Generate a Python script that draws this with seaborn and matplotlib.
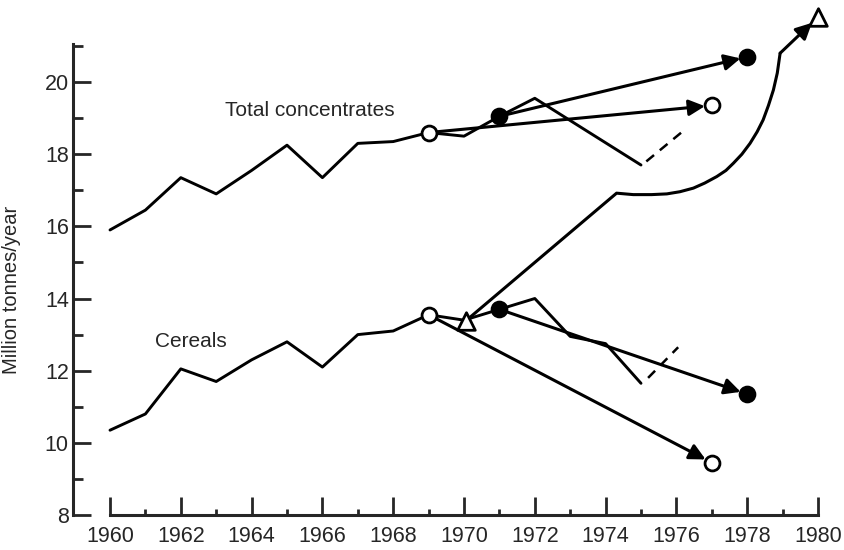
import numpy as np
import pandas as pd
import seaborn as sns
import matplotlib.pyplot as plt
from matplotlib.ticker import MultipleLocator

# values
years_total = [1960, 1961, 1962, 1963, 1964, 1965, 1966, 1967, 1968, 1969, 1970, 1971, 1972, 1975]
total_conc = [15.9, 16.45, 17.35, 16.9, 17.55, 18.25, 17.35, 18.3, 18.35, 18.6, 18.5, 19.05, 19.55, 17.7]
years_cereal = [1960, 1961, 1962, 1963, 1964, 1965, 1966, 1967, 1968, 1969, 1970, 1971, 1972, 1973, 1974, 1975]
cereals = [10.35, 10.8, 12.05, 11.7, 12.3, 12.8, 12.1, 13.0, 13.1, 13.55, 13.4, 13.7, 14.0, 12.95, 12.75, 11.65]

# dashed continuations after 1975
total_dash_x = [1975.15, 1976.2]
total_dash_y = [17.8, 18.65]
cereal_dash_x = [1975.2, 1976.05]
cereal_dash_y = [11.8, 12.65]

# forecasts: start/end points and marker fill
fc_start_x = [1969, 1971, 1969, 1971]
fc_start_y = [18.6, 19.05, 13.55, 13.7]
fc_end_x = [1977, 1978, 1977, 1978]
fc_end_y = [19.35, 20.7, 9.45, 11.35]
fc_fill = ["white", "black", "white", "black"]

# the triangle forecast path (1970 -> 1980)
tri_x = [1970.05, 1974.31, 1974.78, 1975.3, 1975.73, 1976.1, 1976.48, 1976.8, 1977.14,
         1977.4, 1977.61, 1977.85, 1978.08, 1978.28, 1978.45, 1978.6, 1978.74, 1978.85, 1978.93, 1980.0]
tri_y = [13.38, 16.92, 16.88, 16.88, 16.9, 16.96, 17.06, 17.2, 17.38,
         17.55, 17.75, 18.0, 18.3, 18.62, 18.95, 19.35, 19.78, 20.25, 20.8, 21.8]

sns.set_theme(style="ticks")
plt.rcParams["font.family"] = ["Liberation Sans", "DejaVu Sans"]

fig = plt.figure(figsize=(8.45, 5.5), dpi=100)
ax = fig.add_axes([73 / 845, 35 / 550, 1 - 73 / 845, 515 / 550])

total_df = pd.DataFrame({"year": years_total, "value": total_conc})
cereal_df = pd.DataFrame({"year": years_cereal, "value": cereals})
sns.lineplot(data=total_df, x="year", y="value", color="black", lw=2.1, ax=ax)
sns.lineplot(data=cereal_df, x="year", y="value", color="black", lw=2.1, ax=ax)
ax.plot(total_dash_x, total_dash_y, color="black", lw=1.8, ls=(0, (4, 3)))
ax.plot(cereal_dash_x, cereal_dash_y, color="black", lw=1.8, ls=(0, (4, 3)))

# triangle path, last bit as an arrow
ax.plot(tri_x[:-1], tri_y[:-1], color="black", lw=2.2, solid_joinstyle="round")
ax.annotate("", xy=(tri_x[-1], tri_y[-1]), xytext=(tri_x[-2], tri_y[-2]),
            arrowprops=dict(arrowstyle="-|>", lw=2.2, color="black",
                            mutation_scale=24, shrinkA=0, shrinkB=6))
ax.scatter([tri_x[0], tri_x[-1]], [tri_y[0], tri_y[-1]], marker="^", s=160,
           facecolor="white", edgecolor="black", linewidth=2, zorder=5)

# straight forecast arrows
for sx, sy, ex, ey, fill in zip(fc_start_x, fc_start_y, fc_end_x, fc_end_y, fc_fill):
    ax.annotate("", xy=(ex, ey), xytext=(sx, sy),
                arrowprops=dict(arrowstyle="-|>", lw=2.2, color="black",
                                mutation_scale=24, shrinkA=0, shrinkB=5))
    ax.scatter([sx, ex], [sy, ey], marker="o", s=115, facecolor=fill,
               edgecolor="black", linewidth=2, zorder=5)

ax.text(1963.25, 19.2, "Total concentrates", fontsize=15, va="center")
ax.text(1961.27, 12.8, "Cereals", fontsize=15, va="center")

ax.set_xlim(1960 - 37 / 35.4, 1960 + 735 / 35.4)
ax.set_ylim(8, 8 + 515 / 36.08)
ax.spines["bottom"].set_bounds(1960, 1980)
ax.spines["left"].set_bounds(8, 21.05)
sns.despine(ax=ax)
for s in ["bottom", "left"]:
    ax.spines[s].set_linewidth(2.2)

ax.set_xticks(range(1960, 1981, 2))
ax.set_yticks(range(8, 21, 2))
ax.xaxis.set_minor_locator(plt.FixedLocator(list(range(1961, 1980, 2))))
ax.yaxis.set_minor_locator(plt.FixedLocator([9, 11, 13, 15, 17, 19, 21]))
ax.tick_params(axis="x", which="major", direction="in", length=13, width=2, pad=8, labelsize=15.5)
ax.tick_params(axis="x", which="minor", direction="in", length=4, width=2)
ax.tick_params(axis="y", which="major", direction="in", length=13, width=2, pad=3, labelsize=15.5)
ax.tick_params(axis="y", which="minor", direction="in", length=7, width=2)

ax.set_xlabel("")
ax.set_ylabel("Million tonnes/year", fontsize=14.5)
ax.yaxis.set_label_coords(-52 / 772, (515 - 290) / 515)

fig.savefig("out.png", dpi=100)
